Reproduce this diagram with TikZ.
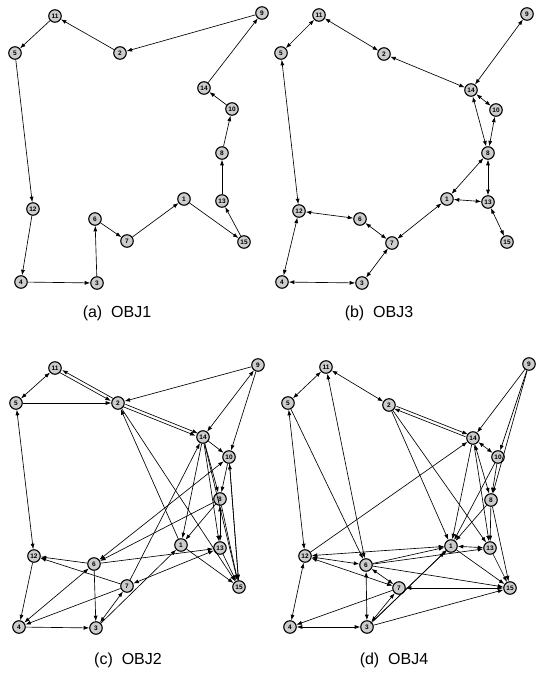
\documentclass[tikz,border=0pt]{standalone}
\usepackage{fontspec}
\setmainfont{Liberation Sans}
\usetikzlibrary{arrows.meta}
\tikzset{
  nd/.style={circle,draw,line width=1.1pt,fill=gray!40,minimum size=12.5pt,inner sep=0pt,font=\fontsize{6.5}{6.5}\selectfont\bfseries},
  ed/.style={line width=0.65pt,-{Latex[length=5.5pt,width=4pt]}},
  bd/.style={line width=0.65pt,{Latex[length=5.5pt,width=4pt]}-{Latex[length=5.5pt,width=4pt]}},
  capt/.style={font=\fontsize{16}{16}\selectfont},
  up/.style={transform canvas={shift={(1.2pt,1.2pt)}}},
  dn/.style={transform canvas={shift={(-1.2pt,-1.2pt)}}}
}
\begin{document}
\begin{tikzpicture}[x=1pt,y=-1pt]
\useasboundingbox (0,0) rectangle (539,681);
% panel a
\foreach \n/\x/\y in {9/262/13,11/55/16,5/15/53,2/120/53,14/204/88,10/232/109,8/222/153,1/184/199,13/222/201,12/33/209,6/95/219,7/127/241,15/244/242,4/21/282,3/97/283}
  \node[nd] (a\n) at (\x,\y) {\n};
\foreach \s/\t in {9/2,2/11,11/5,5/12,12/4,4/3,3/6,6/7,7/1,1/15,15/13,13/8,8/10,10/14,14/9}
  \draw[ed] (a\s) -- (a\t);
\node[capt] (capa) at (117,313) {(a)\ \ OBJ1};
% panel b
\foreach \n/\x/\y in {9/527/14,11/319/15,5/281/53,2/384/54,14/471/90,10/496/110,8/488/153,1/447/199,13/488/202,12/299/211,6/360/219,7/392/243,15/507/242,4/282/282,3/362/283}
  \node[nd] (b\n) at (\x,\y) {\n};
\foreach \s/\t in {11/5,11/2,2/14,9/14,14/10,14/8,10/8,8/1,8/13,1/13,13/15,1/7,7/6,6/12,12/5,12/4,4/3,3/7}
  \draw[bd] (b\s) -- (b\t);
\node[capt] (capb) at (379,313) {(b)\ \ OBJ3};
% panel c
\foreach \n/\x/\y in {9/258/365,11/55/368,5/16/403,2/118/403,14/203/437,10/229/457,8/220/499,1/181/545,13/220/548,12/34/556,6/94/564,7/127/586,15/239/587,4/19/627,3/96/628}
  \node[nd] (c\n) at (\x,\y) {\n};
\foreach \s/\t in {5/2,9/2,1/2,2/15,9/10,14/10,14/1,14/8,14/13,14/15,7/14,8/6,8/1,10/8,10/15,8/15,13/15,1/15,6/13,6/12,7/12,6/3,7/4,12/4,4/3,3/1}
  \draw[ed] (c\s) -- (c\t);
\foreach \s/\t in {11/5,14/9,6/10,8/13,13/7,6/4,3/7,5/12}
  \draw[bd] (c\s) -- (c\t);
\draw[ed,up] (c2) -- (c11);
\draw[ed,dn] (c11) -- (c2);
\draw[ed,up] (c2) -- (c14);
\draw[ed,dn] (c2) -- (c14);
\draw[ed] (c15) -- (c10);
\node[capt] (capc) at (128,660) {(c)\ \ OBJ2};
% panel d
\foreach \n/\x/\y in {9/529/364,11/326/367,5/288/403,2/389/405,14/473/438,10/498/457,8/491/500,1/451/546,13/490/548,12/305/556,6/366/565,7/399/588,15/510/588,4/290/627,3/367/627}
  \node[nd] (d\n) at (\x,\y) {\n};
\foreach \s/\t in {5/6,2/1,2/13,9/14,9/10,9/8,14/13,14/1,10/1,12/14,8/1,8/13,8/15,13/15,1/15,6/1,6/13,6/15,7/4,3/15,10/8}
  \draw[ed] (d\s) -- (d\t);
\foreach \s/\t in {11/5,11/2,11/6,5/12,14/10,14/8,1/13,1/12,12/6,12/7,6/7,6/3,3/7,7/15,12/4,4/3}
  \draw[bd] (d\s) -- (d\t);
\draw[ed,up] (d3) -- (d1);
\draw[ed,dn] (d3) -- (d1);
\draw[ed,up] (d2) -- (d14);
\draw[ed,dn] (d14) -- (d2);
\node[capt] (capd) at (394,660) {(d)\ \ OBJ4};
\end{tikzpicture}
\end{document}
